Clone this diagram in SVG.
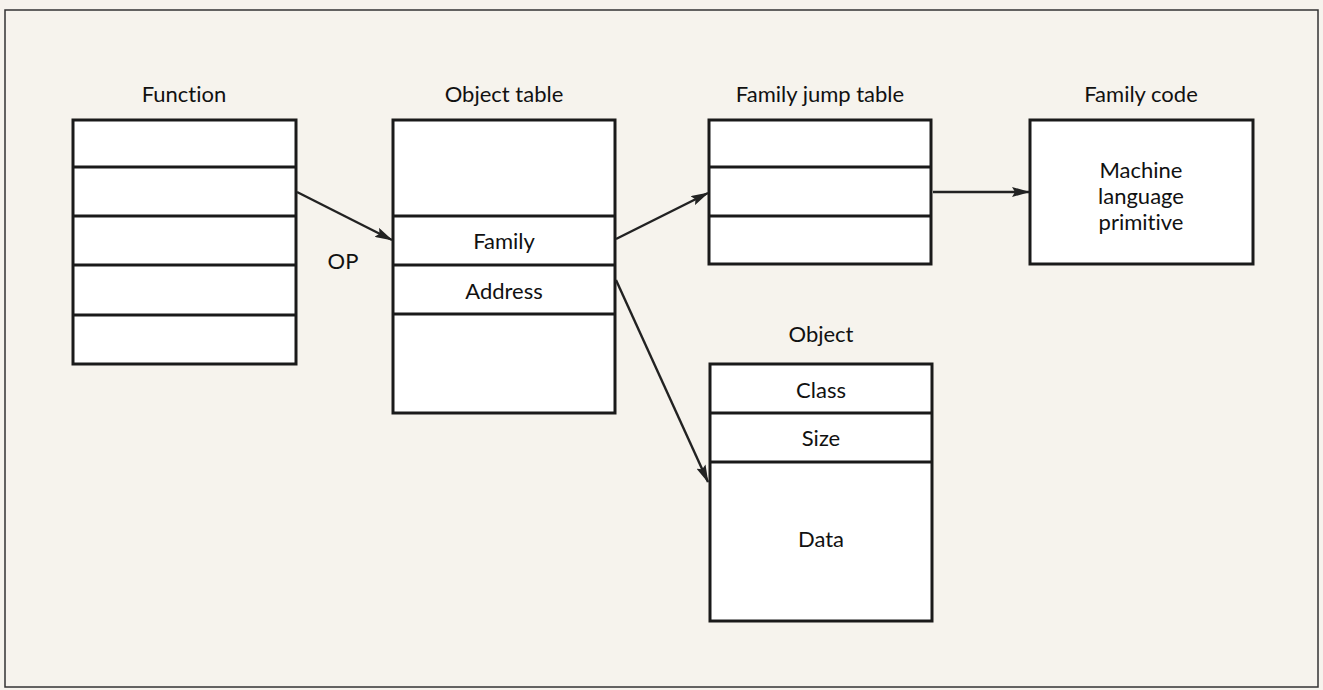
<svg xmlns="http://www.w3.org/2000/svg" width="1323" height="690" viewBox="0 0 1323 690">
<style>
.bg{fill:#f6f3ed}
.frame{fill:none;stroke:#333;stroke-width:1.5}
.box{fill:#fff;stroke:#1a1a1a;stroke-width:3}
.div{stroke:#1a1a1a;stroke-width:3}
.t{font-family:Lato,"Open Sans",sans-serif;font-size:22px;fill:#111;text-anchor:middle;dominant-baseline:central;font-variant-ligatures:none}
.conn{stroke:#222;stroke-width:2.4;fill:none;marker-end:url(#ah)}
</style>
<defs>
<marker id="ah" viewBox="0 0 18 10" refX="17" refY="5" markerWidth="18" markerHeight="10" markerUnits="userSpaceOnUse" orient="auto">
<path d="M0,0 L18,5 L0,10 L3,5 Z" fill="#222"/>
</marker>
</defs>
<rect class="bg" x="0" y="0" width="1323" height="690"/>
<rect class="frame" x="5" y="10" width="1313" height="677"/>

<g id="function">
<text class="t" x="184" y="93">Function</text>
<rect class="box" x="73" y="120" width="223" height="244"/>
<line class="div" x1="73" y1="167" x2="296" y2="167"/>
<line class="div" x1="73" y1="216" x2="296" y2="216"/>
<line class="div" x1="73" y1="265" x2="296" y2="265"/>
<line class="div" x1="73" y1="315" x2="296" y2="315"/>
</g>

<g id="object-table">
<text class="t" x="504" y="93">Object table</text>
<rect class="box" x="393" y="120" width="222" height="293"/>
<line class="div" x1="393" y1="216" x2="615" y2="216"/>
<line class="div" x1="393" y1="265" x2="615" y2="265"/>
<line class="div" x1="393" y1="314" x2="615" y2="314"/>
<text class="t" x="504" y="240">Family</text>
<text class="t" x="504" y="290">Address</text>
</g>

<g id="family-jump-table">
<text class="t" x="820" y="93">Family jump table</text>
<rect class="box" x="709" y="120" width="222" height="144"/>
<line class="div" x1="709" y1="167" x2="931" y2="167"/>
<line class="div" x1="709" y1="216" x2="931" y2="216"/>
</g>

<g id="family-code">
<text class="t" x="1141" y="93">Family code</text>
<rect class="box" x="1030" y="120" width="223" height="144"/>
<text class="t" x="1141" y="169">Machine</text>
<text class="t" x="1141" y="195">language</text>
<text class="t" x="1141" y="221">primitive</text>
</g>

<g id="object">
<text class="t" x="821" y="333">Object</text>
<rect class="box" x="710" y="364" width="222" height="257"/>
<line class="div" x1="710" y1="413" x2="932" y2="413"/>
<line class="div" x1="710" y1="462" x2="932" y2="462"/>
<text class="t" x="821" y="389">Class</text>
<text class="t" x="821" y="437">Size</text>
<text class="t" x="821" y="538">Data</text>
</g>

<g id="op-label">
<text class="t" x="343" y="260">OP</text>
</g>

<g id="connectors">
<line class="conn" x1="297" y1="192" x2="392" y2="240"/>
<line class="conn" x1="616" y1="239" x2="708" y2="193"/>
<line class="conn" x1="933" y1="192" x2="1029" y2="192"/>
<line class="conn" x1="616" y1="280" x2="708" y2="482"/>
</g>
</svg>
